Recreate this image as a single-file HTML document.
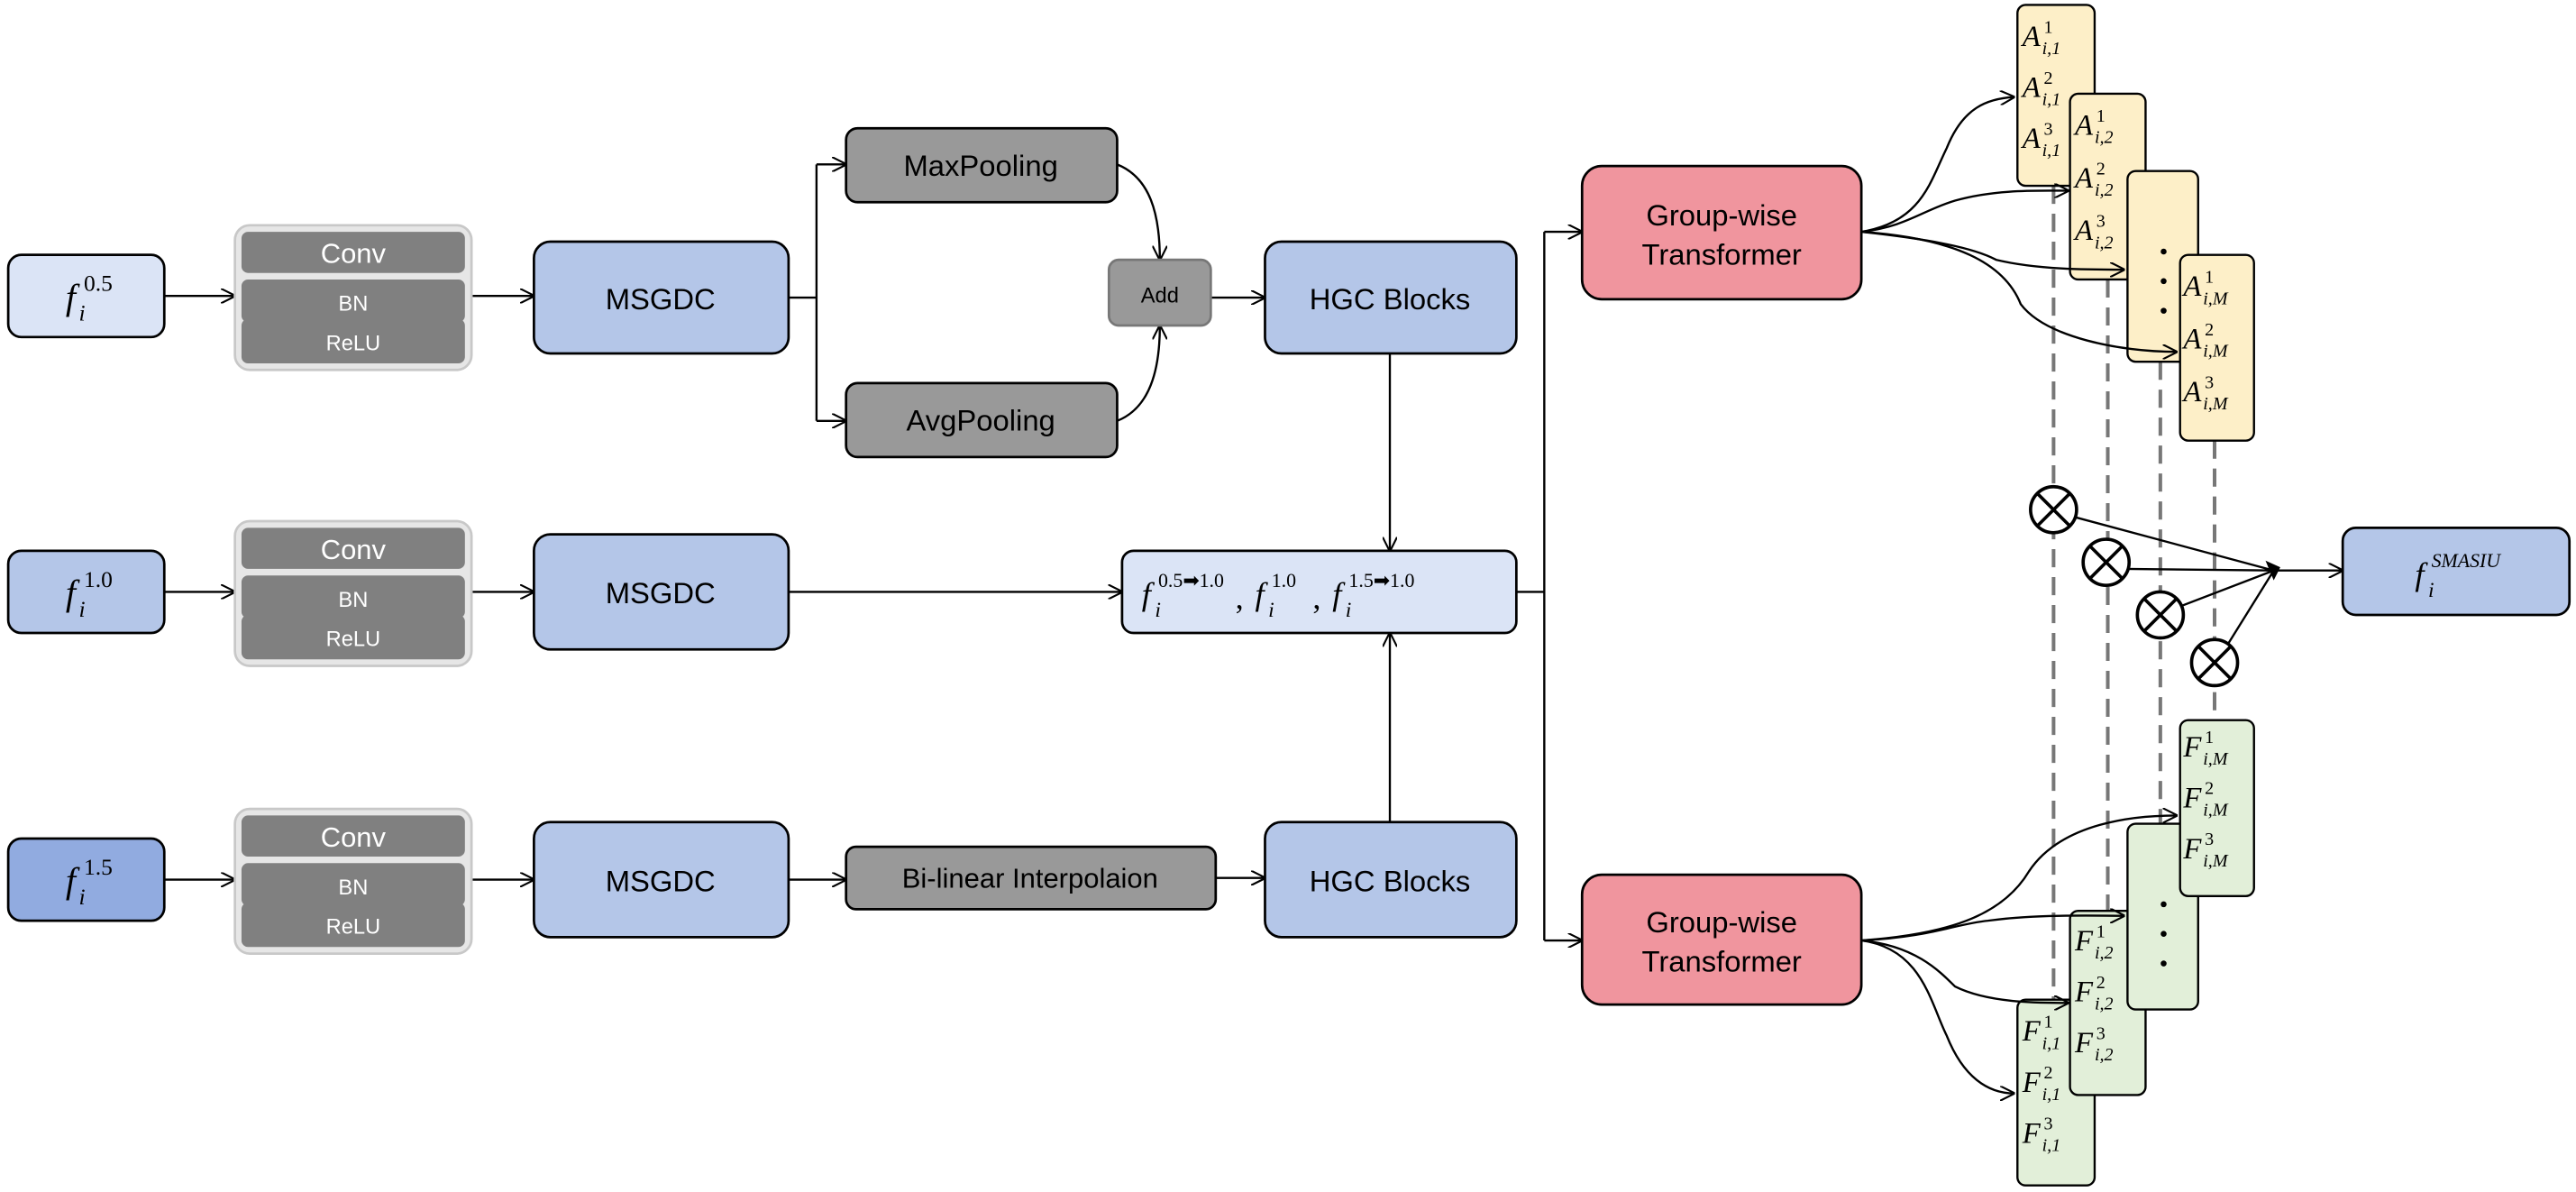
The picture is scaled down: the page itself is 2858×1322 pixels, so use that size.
<!DOCTYPE html>
<html><head><meta charset="utf-8"><style>
html,body{margin:0;padding:0;background:#fff;}
svg{display:block;}
.s{font-family:"Liberation Sans",Arial,sans-serif;}
.m{font-family:"Liberation Serif",serif;font-style:italic;}
.n{font-family:"Liberation Serif",serif;font-style:normal;}
</style></head><body>
<svg width="2858" height="1322" viewBox="0 0 1568 725" preserveAspectRatio="none" xmlns="http://www.w3.org/2000/svg">
<defs>
<marker id="a" viewBox="0 0 10 10" refX="9.5" refY="5" markerWidth="9" markerHeight="9" markerUnits="userSpaceOnUse" orient="auto"><path d="M0,0 L10,5 L0,10" fill="none" stroke="#000" stroke-width="1.3"/></marker>
</defs>
<g stroke="#000" stroke-width="1.3" fill="none">
<path d="M100,180 H143" marker-end="url(#a)"/><path d="M287,180 H325" marker-end="url(#a)"/>
<path d="M100,360 H143" marker-end="url(#a)"/><path d="M287,360 H325" marker-end="url(#a)"/>
<path d="M100,535 H143" marker-end="url(#a)"/><path d="M287,535 H325" marker-end="url(#a)"/>
<path d="M480,181 H497 M497,100 V256"/><path d="M497,100 H515" marker-end="url(#a)"/><path d="M497,256 H515" marker-end="url(#a)"/>
<path d="M680,100 C700,108 706,130 706,158" marker-end="url(#a)"/>
<path d="M680,256 C700,248 706,225 706,198" marker-end="url(#a)"/>
<path d="M737,181 H770" marker-end="url(#a)"/>
<path d="M846,215 V335" marker-end="url(#a)"/>
<path d="M480,360 H683" marker-end="url(#a)"/>
<path d="M480,535 H515" marker-end="url(#a)"/>
<path d="M740,534 H770" marker-end="url(#a)"/>
<path d="M846,500 V385" marker-end="url(#a)"/>
<path d="M923,360 H940 M940,141 V572"/><path d="M940,141 H963" marker-end="url(#a)"/><path d="M940,572 H963" marker-end="url(#a)"/>
<path d="M1384,347 H1426" marker-end="url(#a)"/>
</g>
<g stroke="#000" stroke-width="1.5">
<rect x="5" y="155" width="95" height="50" rx="8" fill="#dbe4f6"/>
<rect x="5" y="335" width="95" height="50" rx="8" fill="#b4c6e8"/>
<rect x="5" y="510" width="95" height="50" rx="8" fill="#91abe0"/>
</g>
<g font-size="22">
<text class="m" x="40" y="188">f</text><text class="m" x="48" y="195" font-size="14">i</text><text class="n" x="51" y="177" font-size="14">0.5</text>
<text class="m" x="40" y="368">f</text><text class="m" x="48" y="375" font-size="14">i</text><text class="n" x="51" y="357" font-size="14">1.0</text>
<text class="m" x="40" y="543">f</text><text class="m" x="48" y="550" font-size="14">i</text><text class="n" x="51" y="532" font-size="14">1.5</text>
</g>
<g class="s" fill="#fff" text-anchor="middle">
<g>
<rect x="143" y="137" width="144" height="88" rx="9" fill="#e6e6e6" stroke="#c8c8c8" stroke-width="1.5"/>
<rect x="147" y="141" width="136" height="25" rx="4" fill="#808080"/><rect x="147" y="170" width="136" height="26" rx="4" fill="#808080"/><rect x="147" y="194" width="136" height="27" rx="4" fill="#808080"/>
<text x="215" y="160" font-size="17">Conv</text><text x="215" y="189" font-size="13">BN</text><text x="215" y="213" font-size="13">ReLU</text>
</g>
<g transform="translate(0,180)">
<rect x="143" y="137" width="144" height="88" rx="9" fill="#e6e6e6" stroke="#c8c8c8" stroke-width="1.5"/>
<rect x="147" y="141" width="136" height="25" rx="4" fill="#808080"/><rect x="147" y="170" width="136" height="26" rx="4" fill="#808080"/><rect x="147" y="194" width="136" height="27" rx="4" fill="#808080"/>
<text x="215" y="160" font-size="17">Conv</text><text x="215" y="189" font-size="13">BN</text><text x="215" y="213" font-size="13">ReLU</text>
</g>
<g transform="translate(0,355)">
<rect x="143" y="137" width="144" height="88" rx="9" fill="#e6e6e6" stroke="#c8c8c8" stroke-width="1.5"/>
<rect x="147" y="141" width="136" height="25" rx="4" fill="#808080"/><rect x="147" y="170" width="136" height="26" rx="4" fill="#808080"/><rect x="147" y="194" width="136" height="27" rx="4" fill="#808080"/>
<text x="215" y="160" font-size="17">Conv</text><text x="215" y="189" font-size="13">BN</text><text x="215" y="213" font-size="13">ReLU</text>
</g>
</g>
<g stroke="#000" stroke-width="1.5" fill="#b4c6e8">
<rect x="325" y="147" width="155" height="68" rx="10"/>
<rect x="325" y="325" width="155" height="70" rx="10"/>
<rect x="325" y="500" width="155" height="70" rx="10"/>
<rect x="770" y="147" width="153" height="68" rx="10"/>
<rect x="770" y="500" width="153" height="70" rx="10"/>
<rect x="683" y="335" width="240" height="50" rx="7" fill="#dbe4f6"/>
<rect x="1426" y="321" width="138" height="53" rx="8"/>
</g>
<g stroke="#000" stroke-width="1.5" fill="#999">
<rect x="515" y="78" width="165" height="45" rx="7"/>
<rect x="515" y="233" width="165" height="45" rx="7"/>
<rect x="515" y="515" width="225" height="38" rx="6"/>
<rect x="675" y="158" width="62" height="40" rx="6" stroke="#777"/>
</g>
<g stroke="#000" stroke-width="1.5" fill="#f0959e">
<rect x="963" y="101" width="170" height="81" rx="12"/>
<rect x="963" y="532" width="170" height="79" rx="12"/>
</g>
<g class="s" fill="#000" text-anchor="middle" font-size="18">
<text x="402" y="188">MSGDC</text><text x="402" y="367">MSGDC</text><text x="402" y="542">MSGDC</text>
<text x="846" y="188">HGC Blocks</text><text x="846" y="542">HGC Blocks</text>
<text x="597" y="107">MaxPooling</text><text x="597" y="262">AvgPooling</text>
<text x="627" y="540" font-size="17">Bi-linear Interpolaion</text>
<text x="706" y="184" font-size="13">Add</text>
<text x="1048" y="137">Group-wise</text><text x="1048" y="161">Transformer</text>
<text x="1048" y="567">Group-wise</text><text x="1048" y="591">Transformer</text>
</g>
<g font-size="20">
<text class="m" x="695" y="368">f</text><text class="m" x="703" y="375" font-size="13">i</text><text class="n" x="705" y="357" font-size="12">0.5➡1.0</text>
<text class="n" x="752" y="370">,</text>
<text class="m" x="764" y="368">f</text><text class="m" x="772" y="375" font-size="13">i</text><text class="n" x="774" y="357" font-size="12">1.0</text>
<text class="n" x="799" y="370">,</text>
<text class="m" x="811" y="368">f</text><text class="m" x="819" y="375" font-size="13">i</text><text class="n" x="821" y="357" font-size="12">1.5➡1.0</text>
<text class="m" x="1470" y="356">f</text><text class="m" x="1478" y="363" font-size="13">i</text><text class="m" x="1480" y="345" font-size="12">SMASIU</text>
</g>
<g stroke="#777" stroke-width="2.2" stroke-dasharray="11,6" fill="none">
<path d="M1250,113 V608 M1283,170 V554 M1315,220 V501 M1348,268 V438"/>
</g>
<!-- A stack (in draw order) -->
<g font-size="18" fill="#000">
<rect x="1228" y="3" width="47" height="110" rx="5" fill="#fdefc8" stroke="#000" stroke-width="1.3"/>
<text class="m" x="1231" y="28">A</text><text class="n" x="1244" y="20" font-size="11">1</text><text class="m" x="1243" y="33" font-size="11">i,1</text>
<text class="m" x="1231" y="59">A</text><text class="n" x="1244" y="51" font-size="11">2</text><text class="m" x="1243" y="64" font-size="11">i,1</text>
<text class="m" x="1231" y="90">A</text><text class="n" x="1244" y="82" font-size="11">3</text><text class="m" x="1243" y="95" font-size="11">i,1</text>
<rect x="1260" y="57" width="46" height="113" rx="5" fill="#fdefc8" stroke="#000" stroke-width="1.3"/>
<text class="m" x="1263" y="82">A</text><text class="n" x="1276" y="74" font-size="11">1</text><text class="m" x="1275" y="87" font-size="11">i,2</text>
<text class="m" x="1263" y="114">A</text><text class="n" x="1276" y="106" font-size="11">2</text><text class="m" x="1275" y="119" font-size="11">i,2</text>
<text class="m" x="1263" y="146">A</text><text class="n" x="1276" y="138" font-size="11">3</text><text class="m" x="1275" y="151" font-size="11">i,2</text>
<rect x="1295" y="104" width="43" height="116" rx="5" fill="#fdefc8" stroke="#000" stroke-width="1.3"/>
<circle cx="1317" cy="153" r="1.8"/><circle cx="1317" cy="171" r="1.8"/><circle cx="1317" cy="189" r="1.8"/>
<rect x="1327" y="155" width="45" height="113" rx="5" fill="#fdefc8" stroke="#000" stroke-width="1.3"/>
<text class="m" x="1329" y="180">A</text><text class="n" x="1342" y="172" font-size="11">1</text><text class="m" x="1341" y="185" font-size="11">i,M</text>
<text class="m" x="1329" y="212">A</text><text class="n" x="1342" y="204" font-size="11">2</text><text class="m" x="1341" y="217" font-size="11">i,M</text>
<text class="m" x="1329" y="244">A</text><text class="n" x="1342" y="236" font-size="11">3</text><text class="m" x="1341" y="249" font-size="11">i,M</text>
</g>
<!-- F stack -->
<g font-size="18" fill="#000">
<rect x="1228" y="608" width="47" height="113" rx="5" fill="#e2efd9" stroke="#000" stroke-width="1.3"/>
<text class="m" x="1231" y="633">F</text><text class="n" x="1244" y="625" font-size="11">1</text><text class="m" x="1243" y="638" font-size="11">i,1</text>
<text class="m" x="1231" y="664">F</text><text class="n" x="1244" y="656" font-size="11">2</text><text class="m" x="1243" y="669" font-size="11">i,1</text>
<text class="m" x="1231" y="695">F</text><text class="n" x="1244" y="687" font-size="11">3</text><text class="m" x="1243" y="700" font-size="11">i,1</text>
<rect x="1260" y="554" width="46" height="112" rx="5" fill="#e2efd9" stroke="#000" stroke-width="1.3"/>
<text class="m" x="1263" y="578">F</text><text class="n" x="1276" y="570" font-size="11">1</text><text class="m" x="1275" y="583" font-size="11">i,2</text>
<text class="m" x="1263" y="609">F</text><text class="n" x="1276" y="601" font-size="11">2</text><text class="m" x="1275" y="614" font-size="11">i,2</text>
<text class="m" x="1263" y="640">F</text><text class="n" x="1276" y="632" font-size="11">3</text><text class="m" x="1275" y="645" font-size="11">i,2</text>
<rect x="1295" y="501" width="43" height="113" rx="5" fill="#e2efd9" stroke="#000" stroke-width="1.3"/>
<circle cx="1317" cy="550" r="1.8"/><circle cx="1317" cy="568" r="1.8"/><circle cx="1317" cy="586" r="1.8"/>
<rect x="1327" y="438" width="45" height="107" rx="5" fill="#e2efd9" stroke="#000" stroke-width="1.3"/>
<text class="m" x="1329" y="460">F</text><text class="n" x="1342" y="452" font-size="11">1</text><text class="m" x="1341" y="465" font-size="11">i,M</text>
<text class="m" x="1329" y="491">F</text><text class="n" x="1342" y="483" font-size="11">2</text><text class="m" x="1341" y="496" font-size="11">i,M</text>
<text class="m" x="1329" y="522">F</text><text class="n" x="1342" y="514" font-size="11">3</text><text class="m" x="1341" y="527" font-size="11">i,M</text>
</g>
<!-- curves over boxes -->
<g stroke="#000" stroke-width="1.3" fill="none">
<path d="M1133,141 C1170,135 1175,110 1185,90 C1195,65 1210,60 1226,59" marker-end="url(#a)"/>
<path d="M1133,141 C1160,138 1170,128 1190,122 C1215,115 1240,116 1259,116" marker-end="url(#a)"/>
<path d="M1133,141 C1170,145 1200,150 1215,158 C1240,164 1270,164 1293,164" marker-end="url(#a)"/>
<path d="M1133,141 C1190,145 1220,160 1230,185 C1245,205 1290,214 1325,214" marker-end="url(#a)"/>
<path d="M1133,572 C1170,577 1175,610 1185,630 C1195,655 1210,665 1226,665" marker-end="url(#a)"/>
<path d="M1133,572 C1165,575 1180,590 1190,600 C1210,610 1240,610 1259,610" marker-end="url(#a)"/>
<path d="M1133,572 C1175,570 1190,562 1210,560 C1240,556 1270,557 1293,557" marker-end="url(#a)"/>
<path d="M1133,572 C1190,568 1220,555 1235,530 C1255,500 1300,496 1325,496" marker-end="url(#a)"/>
<path d="M1261,314 L1384,347 M1293,346 L1384,347 M1324,370 L1384,347 M1356,392 L1384,347"/>
</g>
<path d="M1379,341 L1388,345 L1384,353 Z" fill="#000"/>
<g stroke="#000" stroke-width="2" fill="#fff">
<circle cx="1250" cy="310" r="14"/><path d="M1240,300 L1260,320 M1260,300 L1240,320"/>
<circle cx="1282" cy="342" r="14"/><path d="M1272,332 L1292,352 M1292,332 L1272,352"/>
<circle cx="1315" cy="374" r="14"/><path d="M1305,364 L1325,384 M1325,364 L1305,384"/>
<circle cx="1348" cy="403" r="14"/><path d="M1338,393 L1358,413 M1358,393 L1338,413"/>
</g>
</svg>
</body></html>
